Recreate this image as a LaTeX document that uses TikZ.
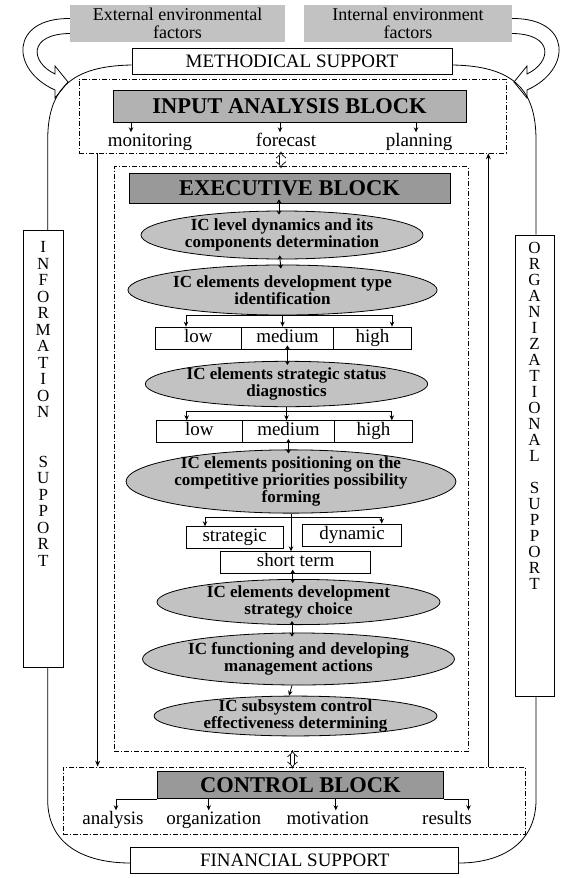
\documentclass[tikz,border=0pt]{standalone}
\usepackage{fontspec}
\setmainfont{Liberation Serif}
\usetikzlibrary{shapes.geometric,arrows.meta}

\definecolor{factorgray}{gray}{0.76}
\definecolor{blockgray}{gray}{0.70}
\definecolor{headgray}{gray}{0.60}
\definecolor{stagegray}{gray}{0.76}

\tikzstyle{factor} = [fill=factorgray, align=center, inner sep=0pt, minimum height=37pt, font=\fontsize{18}{18}\selectfont]
\tikzstyle{support} = [draw, line width=0.8pt, fill=white, inner sep=0pt, minimum height=26pt, font=\fontsize{19}{22}\selectfont]
\tikzstyle{blockframe} = [draw, line width=0.7pt, dash pattern=on 5pt off 2pt on 1pt off 2pt, inner sep=0pt]
\tikzstyle{blockhead} = [draw, line width=0.8pt, inner sep=0pt, font=\bfseries\fontsize{22.5}{25}\selectfont]
\tikzstyle{stage} = [ellipse, draw, line width=0.8pt, fill=stagegray, inner sep=0pt, align=center, font=\bfseries\fontsize{17}{13.5}\selectfont]
\tikzstyle{grade} = [draw, line width=0.8pt, inner sep=0pt, minimum height=22pt, text height=12.5pt, text depth=4pt, font=\fontsize{19}{22}\selectfont]
\tikzstyle{word} = [inner sep=1pt, text height=13pt, text depth=4pt, font=\fontsize{19}{22}\selectfont]
\tikzstyle{pillar} = [draw, line width=0.8pt, inner sep=0pt]
\tikzstyle{letters} = [align=center, inner sep=0pt, anchor=north, font=\fontsize{17}{16.5}\selectfont]
\tikzstyle{rim} = [line width=0.8pt]
\tikzstyle{feed} = [line width=1.4pt, -{Stealth[length=6pt,width=5pt]}]
\tikzstyle{flow} = [line width=0.8pt, -{Stealth[length=5pt,width=4.5pt]}]
\tikzstyle{twoway} = [line width=0.9pt, shorten <=-4pt, shorten >=-4pt, {Stealth[length=4pt,width=5pt]}-{Stealth[length=4pt,width=5pt]}]
\tikzstyle{exchange} = [double, double distance=3pt, line width=0.7pt, shorten <=-2pt, shorten >=-2pt, {Implies}-{Implies}]

\begin{document}
\begin{tikzpicture}[x=1pt, y=-1pt]
\useasboundingbox (0,0) rectangle (579,878);
%factors
\node[factor, minimum width=215pt] (ext) at (177.5,23.5) {External environmental\\factors};
\node[factor, minimum width=208pt] (int) at (408,23.5) {Internal environment\\factors};
\node[support, minimum width=320pt] (method) at (292,61) {METHODICAL SUPPORT};

%begin input analysis block
\node[blockframe, minimum width=427pt, minimum height=74pt] (inframe) at (292.5,116) {};
\node[blockhead, fill=blockgray, minimum width=353pt, minimum height=32pt] (inhead) at (289.5,106) {INPUT ANALYSIS BLOCK};
\node[word] (mon) at (150,142) {monitoring};
\node[word] (fore) at (286,142) {forecast};
\node[word] (plan) at (419,142) {planning};
\draw[flow] ([xshift=-19pt]mon.north |- inhead.south) -- ([xshift=-19pt]mon.north);
\draw[flow] ([xshift=-6pt]fore.north |- inhead.south) -- ([xshift=-6pt]fore.north);
\draw[flow] ([xshift=-3pt]plan.north |- inhead.south) -- ([xshift=-3pt]plan.north);
%end input analysis block

%begin executive block
\node[blockframe, minimum width=354pt, minimum height=585pt] (exframe) at (291,459.2) {};
\node[blockhead, fill=headgray, minimum width=321pt, minimum height=30pt] (exhead) at (289.5,188) {EXECUTIVE BLOCK};
\node[stage, minimum width=282pt, minimum height=48pt] (lvl) at (282,235) {IC level dynamics and its\\components determination};
\node[stage, minimum width=278pt, minimum height=50pt] (devtype) at (282.5,290) {IC elements development type\\identification};
%begin level1-low medium high
\node[grade, minimum width=86.7pt] (low1) at (198.4,338) {low};
\node[grade, minimum width=91.3pt] (med1) at (287.4,338) {medium};
\node[grade, minimum width=78.7pt] (high1) at (372.4,338) {high};
%end level1
\node[stage, minimum width=276pt, minimum height=42pt] (status) at (286.5,384) {IC elements strategic status\\diagnostics};
%begin level2-low medium high
\node[grade, minimum width=86.7pt] (low2) at (199.4,431.7) {low};
\node[grade, minimum width=91.3pt] (med2) at (288.4,431.7) {medium};
\node[grade, minimum width=78.7pt] (high2) at (373.4,431.7) {high};
%end level2
\node[stage, minimum width=318pt, minimum height=57pt, inner ysep=-2pt] (posit) at (291,481.5) {IC elements positioning on the\\competitive priorities possibility\\forming};
\node[grade, minimum width=97pt, minimum height=21.6pt] (strat) at (234.7,537.5) {strategic};
\node[grade, minimum width=99.4pt, minimum height=22.7pt] (dynam) at (352,535.3) {dynamic};
\node[grade, minimum width=150pt, minimum height=21.6pt] (short) at (295.7,562.5) {short term};
\node[stage, minimum width=283pt, minimum height=44pt] (choice) at (298.5,602) {IC elements development\\strategy choice};
\node[stage, minimum width=285pt, minimum height=52pt] (manage) at (298.5,659) {IC functioning and developing\\management actions};
\node[stage, minimum width=283pt, minimum height=38pt, inner ysep=-2pt] (effect) at (295.5,716) {IC subsystem control\\effectiveness determining};
\draw[twoway] ([xshift=-3pt]lvl.north |- exhead.south) -- ([xshift=-3pt]lvl.north);
\draw[twoway] ([xshift=-2pt]lvl.south) -- ([xshift=-2pt]devtype.north);
\draw[flow] (devtype.south) -- (devtype.south |- med1.north);
\draw[flow] (devtype.south) -| ([xshift=-12.4pt]low1.north);
\draw[flow] (devtype.south) -| ([xshift=19.6pt]high1.north);
\draw[twoway] (med1.south) -- (med1.south |- status.north);
\coordinate (fork3) at ([yshift=-4pt]status.south);
\draw[flow] (status.south) -- (status.south |- med2.north);
\draw[flow] (fork3) -| ([xshift=-12.7pt]low2.north);
\draw[flow] (fork3) -| ([xshift=18.4pt]high2.north);
\draw[twoway] (med2.south) -- (med2.south |- posit.north);
\coordinate (fork4) at ([yshift=-4pt]posit.south);
\draw[flow] (posit.south) -- (posit.south |- short.north);
\draw[flow] (fork4) -| ([xshift=-29.7pt]strat.north);
\draw[flow] (fork4) -| ([xshift=29.7pt]dynam.north);
\draw[twoway] ([xshift=-3pt]short.south) -- ([xshift=-3pt]short.south |- choice.north);
\draw[twoway] ([xshift=-6.5pt]choice.south) -- ([xshift=-6.5pt]manage.north);
\draw[flow] ([xshift=-6.5pt]manage.south) -- ([xshift=-6.5pt]effect.north);
%end executive block

%begin control block
\node[blockframe, minimum width=462pt, minimum height=67.3pt] (cframe) at (294,800.6) {};
\node[blockhead, fill=headgray, minimum width=286pt, minimum height=27pt] (chead) at (300.4,785) {CONTROL BLOCK};
\node[word] (ana) at (113,820) {analysis};
\node[word] (orgn) at (213.7,820) {organization};
\node[word] (moti) at (327.8,820) {motivation};
\node[word] (res) at (447,820) {results};
\draw[flow] (chead.south west) -| ([xshift=3pt]ana.north);
\draw[flow] ([xshift=-5pt]orgn.north |- chead.south) -- ([xshift=-5pt]orgn.north);
\draw[flow] ([xshift=8pt]moti.north |- chead.south) -- ([xshift=8pt]moti.north);
\draw[flow] (chead.south east) -| ([xshift=21.5pt]res.north);
%end control block

\node[support, minimum width=328pt] (fin) at (294.8,860) {FINANCIAL SUPPORT};

%between the blocks
\draw[exchange] ([xshift=-11.5pt]inframe.south) -- ([xshift=-11.5pt]inframe.south |- exframe.north);
\draw[exchange] ([xshift=1.5pt]exframe.south) -- ([xshift=1.5pt]exframe.south |- cframe.north);
\coordinate (leftfeed) at ([xshift=19pt]inframe.south west);
\coordinate (rightfeed) at ([xshift=-18pt]inframe.south east);
\draw[feed] (leftfeed) -- (leftfeed |- cframe.north);
\draw[feed] (rightfeed |- cframe.north) -- (rightfeed);

%begin side supports
\node[pillar, minimum width=40pt, minimum height=436.6pt] (info) at (43.3,449) {};
\node[letters] (info-t) at ([yshift=-11pt]info.north) {I\\N\\F\\O\\R\\M\\A\\T\\I\\O\\N\\[33pt]S\\U\\P\\P\\O\\R\\T};
\node[pillar, minimum width=39pt, minimum height=461.7pt] (org) at (534.5,465.9) {};
\node[letters, font=\fontsize{17}{16}\selectfont] (org-t) at ([yshift=-7pt]org.north) {O\\R\\G\\A\\N\\I\\Z\\A\\T\\I\\O\\N\\A\\L\\[16pt]S\\U\\P\\P\\O\\R\\T};
\draw[rim] ([yshift=-4pt]method.west) .. controls (70,66) and (47.7,90) .. (47.7,140) -- ([xshift=4.4pt]info.north);
\draw[rim] ([yshift=-4pt]method.east) .. controls (514,66) and (536,90) .. (536,140) -- ([xshift=1.5pt]org.north);
\draw[rim] ([xshift=4.4pt]info.south) -- (47.7,800) .. controls (47.7,845) and (85,863) .. ([yshift=-3pt]fin.west);
\draw[rim] ([xshift=1.5pt]org.south) -- (536,800) .. controls (536,845) and (499,863) .. ([yshift=-3pt]fin.east);
%end side supports

%curved arrows from the factors
\draw[rim] ([yshift=5pt]ext.west) .. controls (10,18) and (10,70) .. (55,90) -- (55,98) -- (68,82) -- (55,66) -- (55,74) .. controls (30,62) and (28,34) .. ([yshift=-10pt]ext.west);
\draw[rim] ([yshift=5pt]int.east) .. controls (572,18) and (572,70) .. (527,90) -- (527,98) -- (514,82) -- (527,66) -- (527,74) .. controls (552,62) and (554,34) .. ([yshift=-10pt]int.east);
\end{tikzpicture}
\end{document}
